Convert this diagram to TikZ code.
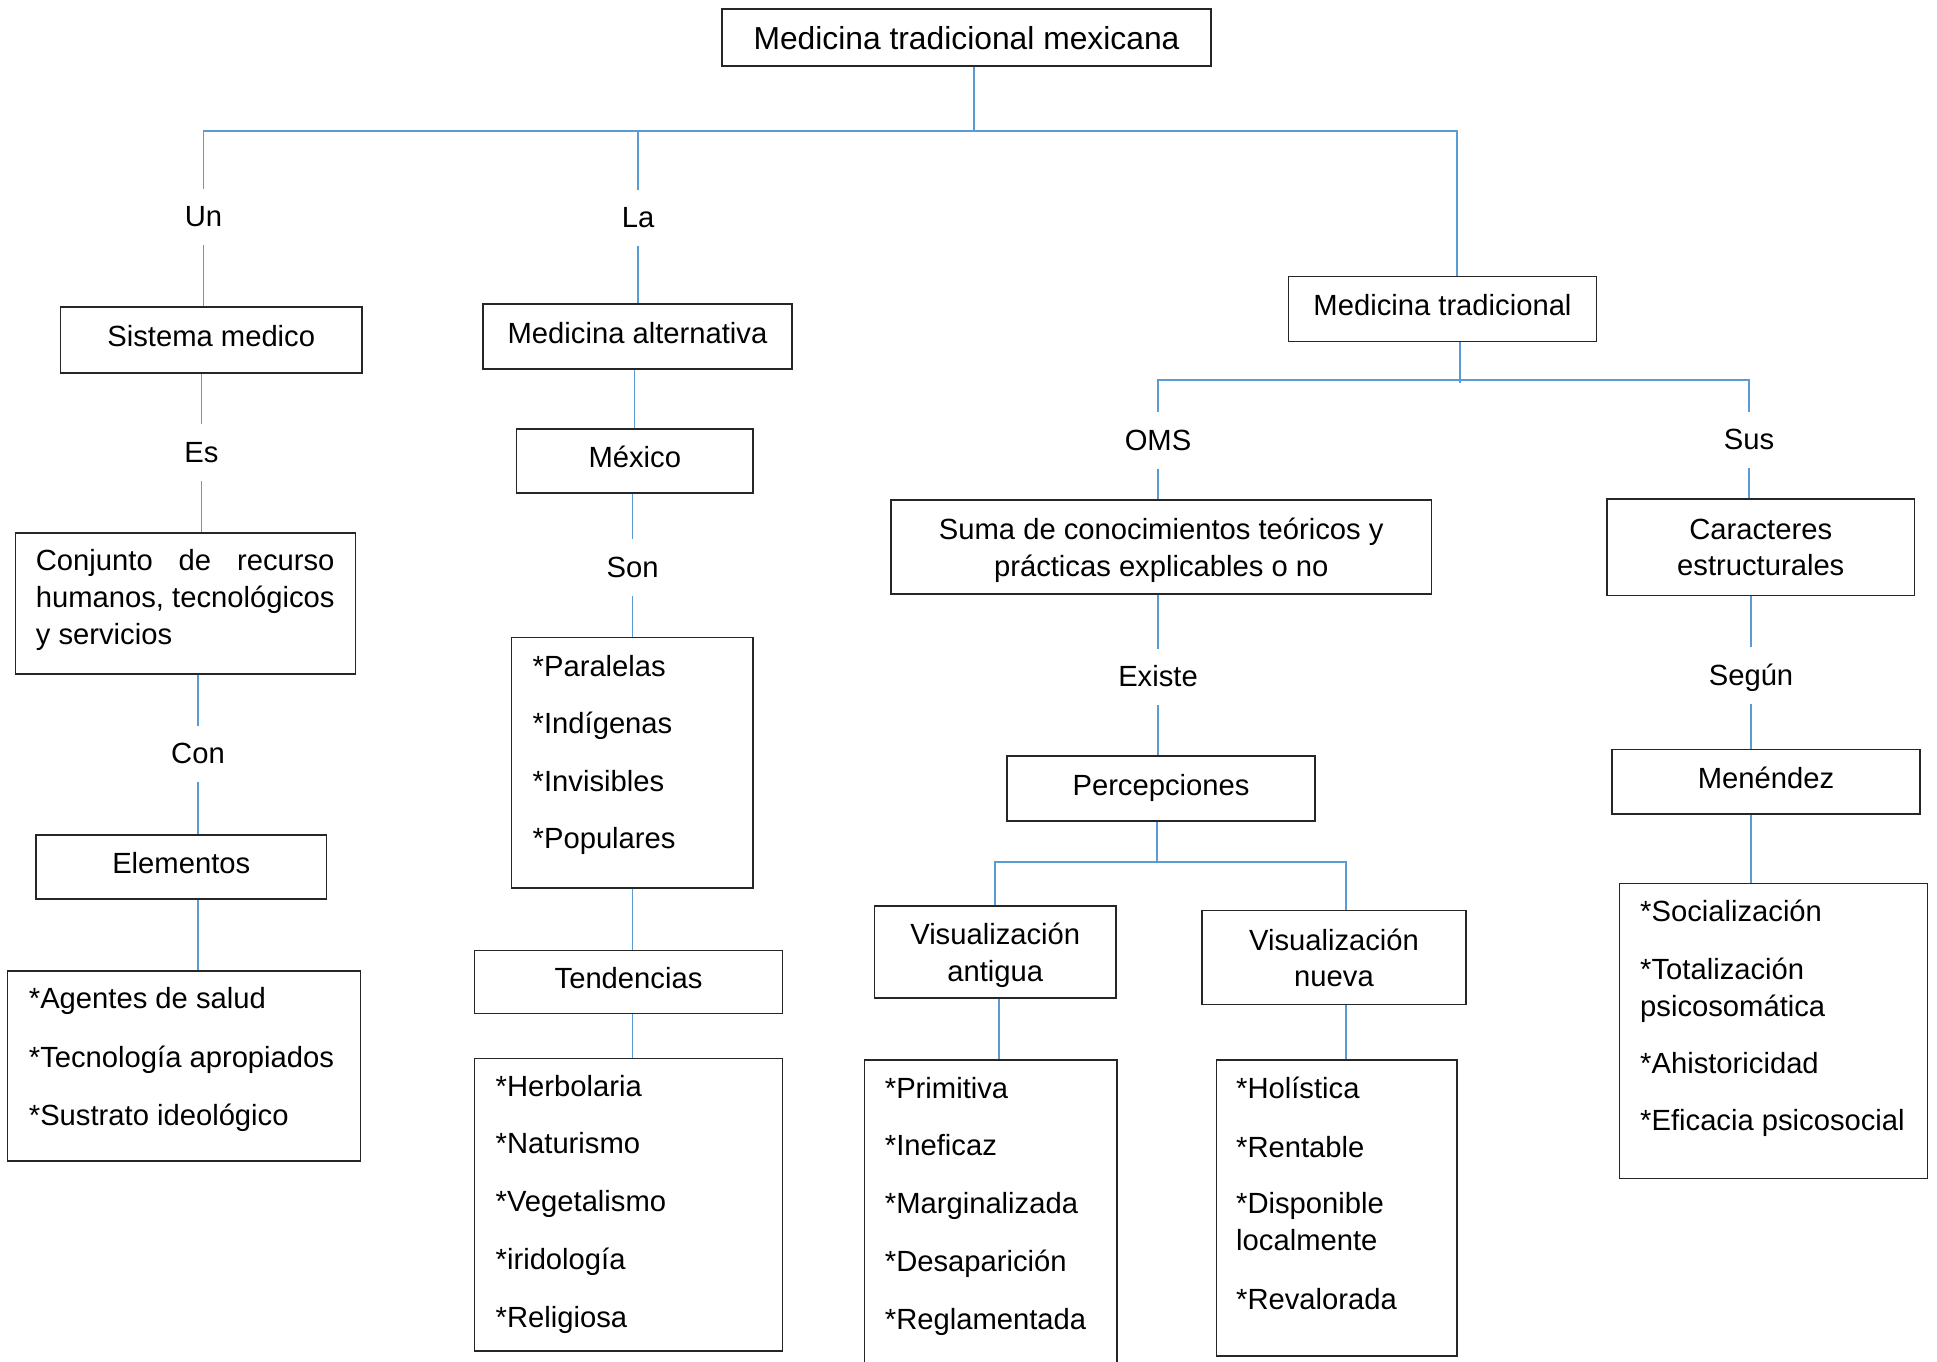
\documentclass[tikz,border=0pt]{standalone}
\usepackage{fontspec}
\setmainfont{Liberation Sans}
\definecolor{lineblue}{HTML}{5B9BD5}
\definecolor{boxgray}{HTML}{262626}
\newcommand\fsz{\fontsize{29.2pt}{36.5pt}\selectfont}
\newcommand\fszT{\fontsize{31.8pt}{38pt}\selectfont}
\newcommand\bx[7]{\node[#6, minimum width={#4-#2}, minimum height={#5-#3}] (#1) at ({(#2+#4)/2},{(#3+#5)/2}) {#7};}
\tikzset{
  conn/.style={draw=lineblue, line width=1.3pt},
  boxplain/.style={draw=boxgray, line width=1.3pt, inner sep=0pt},
  box/.style={boxplain, font=\fsz, text height=21.9pt, text depth=8.5pt},
  boxT/.style={boxplain, font=\fszT, text height=23.8pt, text depth=0.5pt},
  boxtwo/.style={boxplain, font=\fsz, align=center, text depth=0pt},
  lbl/.style={inner sep=0pt, font=\fsz, text height=21pt, text depth=2pt, minimum height=56pt},
  item/.style={inner sep=0pt, font=\fsz, anchor=base west},
}
\begin{document}
\begin{tikzpicture}[x=1pt,y=-1pt]
\useasboundingbox (0,0) rectangle (1937,1361);
\clip (0,0) rectangle (1937,1361);

% boxes
\bx{top}{722}{9}{1211}{66}{boxT}{Medicina tradicional mexicana}
\bx{sm}{60.5}{307}{362}{373}{box}{Sistema medico}
\bx{ma}{483}{304}{792}{369}{box}{Medicina alternativa}
\bx{mx}{516.5}{429}{753}{493}{box}{México}
\bx{cj}{15.5}{533}{355.5}{674}{boxplain}{}
\bx{el}{36}{835}{326.5}{899}{box}{Elementos}
\bx{ag}{7.5}{971}{360.5}{1161}{boxplain}{}
\bx{pa}{511.5}{637.5}{753}{888}{boxplain}{}
\bx{te}{474.5}{950.5}{782.5}{1013.5}{box}{Tendencias}
\bx{he}{474.5}{1058.5}{782.5}{1351}{boxplain}{}
\bx{mt}{1288.5}{276.5}{1596.5}{341.5}{box}{Medicina tradicional}
\bx{su}{891}{500}{1431.5}{594}{boxtwo}{Suma de conocimientos teóricos y\\prácticas explicables o no}
\bx{ca}{1607}{499}{1914.5}{595.5}{boxtwo}{Caracteres\\estructurales}
\bx{pe}{1007}{756}{1315}{821}{box}{Percepciones}
\bx{me}{1612}{749.5}{1920}{814}{box}{Menéndez}
\bx{va}{874.5}{906}{1116}{998}{boxtwo}{Visualización\\antigua}
\bx{vn}{1202}{910.5}{1466}{1004.5}{boxtwo}{Visualización\\nueva}
\bx{pr}{864.6}{1060}{1117}{1420}{boxplain}{}
\bx{ho}{1216.5}{1060}{1457}{1356}{boxplain}{}
\bx{so}{1619.5}{883.5}{1927.5}{1178.5}{boxplain}{}

% box texts
\node[item] (cj1) at (35.7,570.5) {\makebox[298.6pt][s]{Conjunto de recurso}};
\node[item] (cj2) at (35.7,607.5) {humanos, tecnológicos};
\node[item] (cj3) at (35.7,644) {y servicios};

\node[item] (ag1) at (28.7,1008.3) {*Agentes de salud};
\node[item] (ag2) at (28.7,1067.3) {*Tecnología apropiados};
\node[item] (ag3) at (28.7,1125.3) {*Sustrato ideológico};

\node[item] (pa1) at (532.5,676) {*Paralelas};
\node[item] (pa2) at (532.5,733.8) {*Indígenas};
\node[item] (pa3) at (532.5,791.3) {*Invisibles};
\node[item] (pa4) at (532.5,848.8) {*Populares};

\node[item] (he1) at (495.5,1096.8) {*Herbolaria};
\node[item] (he2) at (495.5,1153.3) {*Naturismo};
\node[item] (he3) at (495.5,1211.3) {*Vegetalismo};
\node[item] (he4) at (495.5,1269.3) {*iridología};
\node[item] (he5) at (495.5,1327.3) {*Religiosa};

\node[item] (pr1) at (884.7,1098.3) {*Primitiva};
\node[item] (pr2) at (884.7,1155.8) {*Ineficaz};
\node[item] (pr3) at (884.7,1213.8) {*Marginalizada};
\node[item] (pr4) at (884.7,1271.3) {*Desaparición};
\node[item] (pr5) at (884.7,1329.3) {*Reglamentada};

\node[item] (ho1) at (1236,1098.8) {*Holística};
\node[item] (ho2) at (1236,1157.3) {*Rentable};
\node[item] (ho3) at (1236,1213.8) {*Disponible};
\node[item] (ho4) at (1236,1250.8) {localmente};
\node[item] (ho5) at (1236,1309) {*Revalorada};

\node[item] (so1) at (1640,921.3) {*Socialización};
\node[item] (so2) at (1640,979.8) {*Totalización};
\node[item] (so3) at (1640,1016.3) {psicosomática};
\node[item] (so4) at (1640,1073.3) {*Ahistoricidad};
\node[item] (so5) at (1640,1130.8) {*Eficacia psicosocial};

% labels
\node[lbl] (un) at (203.5,217) {Un};
\node[lbl] (la) at (638,218) {La};
\node[lbl] (es) at (201.5,452.5) {Es};
\node[lbl] (con) at (198,754) {Con};
\node[lbl] (son) at (632.7,567.5) {Son};
\node[lbl] (oms) at (1158,440.5) {OMS};
\node[lbl] (sus) at (1749,440) {Sus};
\node[lbl] (ex) at (1158,677) {Existe};
\node[lbl] (se) at (1751,675.5) {Según};

% junctions
\coordinate (j0) at (974,131);
\coordinate (bL) at (203.5,131);
\coordinate (bR) at (1457,131);
\coordinate (j1) at (1460,380);
\coordinate (b2L) at (1158,380);
\coordinate (b2R) at (1749,380);
\coordinate (j2) at (1157,862);
\coordinate (b3L) at (995,862);
\coordinate (b3R) at (1346,862);
\coordinate (k1) at (999,0);

% connectors
\draw[conn] (top.south -| j0) -- (j0);
\draw[conn] (un) -- (bL) -- (bR) -- (bR |- mt.north);
\draw[conn] (un) -- (un |- sm.north);
\draw[conn] (la |- bL) -- (la) -- (la |- ma.north);
\draw[conn] (es |- sm.south) -- (es) -- (es |- cj.north);
\draw[conn] (con |- cj.south) -- (con) -- (con |- el.north);
\draw[conn] (con |- el.south) -- (con |- ag.north);
\draw[conn] (ma.south -| mx) -- (mx.north);
\draw[conn] (son |- mx.south) -- (son) -- (son |- pa.north);
\draw[conn] (son |- pa.south) -- (son |- te.north);
\draw[conn] (son |- te.south) -- (son |- he.north);
\draw[conn] (mt.south -| j1) -- ([yshift=-3pt]j1);
\draw[conn] (oms) -- (b2L) -- (b2R) -- (sus);
\draw[conn] (oms) -- (oms |- su.north);
\draw[conn] (sus) -- (sus |- ca.north);
\draw[conn] (ex |- su.south) -- (ex) -- (ex |- pe.north);
\draw[conn] (se |- ca.south) -- (se) -- (se |- me.north);
\draw[conn] (se |- me.south) -- (se |- so.north);
\draw[conn] (pe.south -| j2) -- (j2);
\draw[conn] (va.north -| b3L) -- (b3L) -- (b3R) -- (vn.north -| b3R);
\draw[conn] (va.south -| k1) -- (pr.north -| k1);
\draw[conn] (vn.south -| b3R) -- (ho.north -| b3R);
\end{tikzpicture}
\end{document}
